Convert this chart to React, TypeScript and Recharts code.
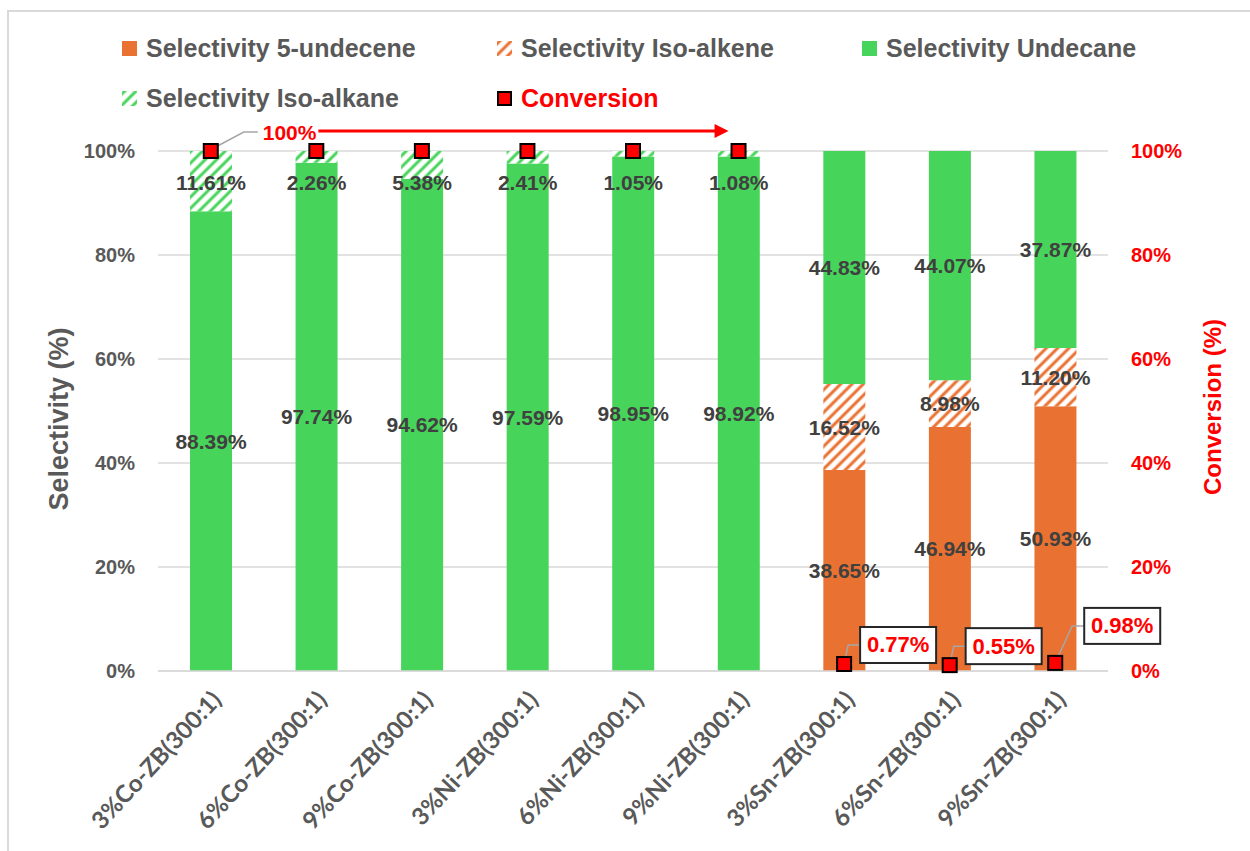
import React from 'react';
import {
  ComposedChart,
  Bar,
  Line,
  XAxis,
  YAxis,
  CartesianGrid,
  LabelList,
  ReferenceLine
} from 'recharts';

const categories = [
  '3%Co-ZB(300:1)',
  '6%Co-ZB(300:1)',
  '9%Co-ZB(300:1)',
  '3%Ni-ZB(300:1)',
  '6%Ni-ZB(300:1)',
  '9%Ni-ZB(300:1)',
  '3%Sn-ZB(300:1)',
  '6%Sn-ZB(300:1)',
  '9%Sn-ZB(300:1)'
];
const undecene = [0, 0, 0, 0, 0, 0, 38.65, 46.94, 50.93];
const isoAlkene = [0, 0, 0, 0, 0, 0, 16.52, 8.98, 11.2];
const undecane = [88.39, 97.74, 94.62, 97.59, 98.95, 98.92, 44.83, 44.07, 37.87];
const isoAlkane = [11.61, 2.26, 5.38, 2.41, 1.05, 1.08, 0, 0, 0];
const conversion = [100, 100, 100, 100, 100, 100, 0.77, 0.55, 0.98];
const percentTicks = [0, 20, 40, 60, 80, 100];

const data = categories.map((name, i) => ({
  name,
  undecene: undecene[i],
  isoAlkene: isoAlkene[i],
  undecane: undecane[i],
  isoAlkane: isoAlkane[i],
  conversion: conversion[i]
}));

const ORANGE = '#E97132';
const GREEN = '#47D45A';
const RED = '#FF0000';
const GREY = '#595959';
const LABEL = '#404040';
const ARIAL = '"Liberation Sans", Arial, sans-serif';

const legendItems = [
  { label: 'Selectivity 5-undecene', fill: ORANGE, col: 0, row: 0 },
  { label: 'Selectivity Iso-alkene', fill: 'url(#hatchOrange)', col: 1, row: 0 },
  { label: 'Selectivity Undecane', fill: GREEN, col: 2, row: 0 },
  { label: 'Selectivity Iso-alkane', fill: 'url(#hatchGreen)', col: 0, row: 1 },
  { label: 'Conversion', fill: RED, col: 1, row: 1, marker: true }
];
const legendCols = [122, 497, 862];

const segmentLabel = (shiftDown?: number) => (props: any) => {
  const { x, y, width, height, value } = props;
  if (!value) return null;
  const cy = shiftDown ? y + shiftDown : y + height / 2;
  return (
    <text
      x={x + width / 2}
      y={cy}
      textAnchor="middle"
      dominantBaseline="central"
      fill={LABEL}
      fontFamily={ARIAL}
      fontWeight="bold"
      fontSize={21}
    >
      {value.toFixed(2)}%
    </text>
  );
};

const calloutShift: Record<number, { dx: number; dy: number }> = {
  8: { dx: 29, dy: -40 }
};

const ConversionDot = (props: any) => {
  const { cx, cy, index, value } = props;
  const square = (
    <rect x={cx - 7} y={cy - 10} width={14} height={14} fill={RED} stroke="#000" strokeWidth={2} />
  );
  if (index === 0) {
    return (
      <g key={`dot-${index}`}>
        <polyline
          points={`${cx + 3},${cy - 3} ${cx + 33},${cy - 19} ${cx + 47},${cy - 19}`}
          fill="none"
          stroke="#A6A6A6"
          strokeWidth={1.5}
        />
        <text
          x={cx + 52}
          y={cy - 19}
          dominantBaseline="central"
          fill={RED}
          fontFamily={ARIAL}
          fontWeight="bold"
          fontSize={21}
        >
          {value}%
        </text>
        <rect x={cx - 7} y={cy - 7} width={14} height={14} fill={RED} stroke="#000" strokeWidth={2} />
      </g>
    );
  }
  if (value < 50) {
    const s = calloutShift[index] || { dx: 16, dy: -22 };
    const knee = s.dx - 12;
    return (
      <g key={`dot-${index}`}>
        <polyline
          points={`${cx},${cy - 3} ${cx + knee},${cy + s.dy} ${cx + s.dx},${cy + s.dy}`}
          fill="none"
          stroke="#A6A6A6"
          strokeWidth={1.5}
        />
        <rect
          x={cx + s.dx}
          y={cy + s.dy - 18}
          width={76}
          height={36}
          fill="#fff"
          stroke="#262626"
          strokeWidth={2}
        />
        <text
          x={cx + s.dx + 38}
          y={cy + s.dy}
          textAnchor="middle"
          dominantBaseline="central"
          fill={RED}
          fontFamily={ARIAL}
          fontWeight="bold"
          fontSize={22}
        >
          {value.toFixed(2)}%
        </text>
        {square}
      </g>
    );
  }
  return (
    <g key={`dot-${index}`}>
      <rect x={cx - 7} y={cy - 7} width={14} height={14} fill={RED} stroke="#000" strokeWidth={2} />
    </g>
  );
};

const CategoryTick = (props: any) => {
  const { x, y, payload } = props;
  return (
    <g transform={`translate(${x + 12},${y + 22})`}>
      <text
        textAnchor="end"
        transform="rotate(-47)"
        fill={GREY}
        fontFamily="Lato, sans-serif"
        fontWeight="bold"
        fontSize={24}
      >
        {payload.value}
      </text>
    </g>
  );
};

const ArrowShape = (props: any) => {
  const { x1, y1, x2 } = props;
  const y = y1 - 20;
  const end = x2 - 10;
  return (
    <g>
      <line x1={x1 + 2} y1={y} x2={end - 12} y2={y} stroke={RED} strokeWidth={3} />
      <polygon points={`${end - 14},${y - 7} ${end},${y} ${end - 14},${y + 7}`} fill={RED} />
    </g>
  );
};

const App = () => {
  return (
    <div
      style={{
        position: 'absolute',
        left: 0,
        top: 0,
        width: 1250,
        height: 851,
        background: '#fff',
        fontFamily: ARIAL
      }}
    >
      <div
        style={{
          position: 'absolute',
          left: 7,
          top: 10,
          right: 0,
          bottom: 0,
          borderLeft: '2px solid #d9d9d9',
          borderTop: '2px solid #d9d9d9'
        }}
      />
      <svg width={0} height={0} style={{ position: 'absolute' }}>
        <defs>
          <pattern id="hatchOrange" width="8" height="8" patternUnits="userSpaceOnUse" patternTransform="rotate(45)">
            <rect width="8" height="8" fill="#fff" />
            <line x1="2" y1="0" x2="2" y2="8" stroke={ORANGE} strokeWidth="3" />
          </pattern>
          <pattern id="hatchGreen" width="8" height="8" patternUnits="userSpaceOnUse" patternTransform="rotate(45)">
            <rect width="8" height="8" fill="#fff" />
            <line x1="2" y1="0" x2="2" y2="8" stroke={GREEN} strokeWidth="3" />
          </pattern>
        </defs>
      </svg>

      {legendItems.map((item) => (
        <div
          key={item.label}
          style={{
            position: 'absolute',
            left: legendCols[item.col],
            top: 48 + item.row * 50 - 15,
            height: 30,
            display: 'flex',
            alignItems: 'center',
            fontWeight: 'bold',
            fontSize: 25,
            color: item.marker ? RED : GREY,
            whiteSpace: 'nowrap'
          }}
        >
          <svg width={15} height={15} style={{ marginRight: 9 }}>
            <rect
              x={item.marker ? 1 : 0}
              y={item.marker ? 1 : 0}
              width={item.marker ? 13 : 15}
              height={item.marker ? 13 : 15}
              fill={item.fill}
              stroke={item.marker ? '#000' : 'none'}
              strokeWidth={item.marker ? 2 : 0}
            />
          </svg>
          {item.label}
        </div>
      ))}

      <ComposedChart
        width={1250}
        height={851}
        data={data}
        margin={{ top: 151, right: 20, bottom: 0, left: 30 }}
        barCategoryGap="30%"
      >
        <CartesianGrid vertical={false} stroke="#d9d9d9" strokeWidth={1.5} yAxisId="left" />
        <XAxis
          dataKey="name"
          height={180}
          tickLine={false}
          axisLine={{ stroke: '#d9d9d9', strokeWidth: 1.5 }}
          tick={<CategoryTick />}
          interval={0}
        />
        <YAxis
          yAxisId="left"
          width={128}
          domain={[0, 100]}
          ticks={percentTicks}
          tickFormatter={(v) => `${v}%`}
          axisLine={false}
          tickLine={false}
          tickMargin={17}
          tick={{ fill: GREY, fontWeight: 'bold', fontSize: 20, fontFamily: ARIAL }}
          label={{
            content: ({ viewBox }: any) => (
              <text
                transform={`translate(${viewBox.x + 29},${viewBox.y + viewBox.height / 2 + 8}) rotate(-90)`}
                textAnchor="middle"
                dominantBaseline="central"
                fill={GREY}
                fontFamily={ARIAL}
                fontWeight="bold"
                fontSize={27}
              >
                Selectivity (%)
              </text>
            )
          }}
        />
        <YAxis
          yAxisId="right"
          orientation="right"
          width={122}
          domain={[0, 100]}
          ticks={percentTicks}
          tickFormatter={(v) => `${v}%`}
          axisLine={false}
          tickLine={false}
          tickMargin={17}
          tick={{ fill: RED, fontWeight: 'bold', fontSize: 20, fontFamily: ARIAL }}
          label={{
            content: ({ viewBox }: any) => (
              <text
                transform={`translate(${viewBox.x + 104},${viewBox.y + viewBox.height / 2 - 4}) rotate(-90)`}
                textAnchor="middle"
                dominantBaseline="central"
                fill={RED}
                fontFamily={ARIAL}
                fontWeight="bold"
                fontSize={24}
              >
                Conversion (%)
              </text>
            )
          }}
        />
        <Bar dataKey="undecene" stackId="s" yAxisId="left" fill={ORANGE} barSize={42} isAnimationActive={false}>
          <LabelList dataKey="undecene" content={segmentLabel()} />
        </Bar>
        <Bar dataKey="isoAlkene" stackId="s" yAxisId="left" fill="url(#hatchOrange)" barSize={42} isAnimationActive={false}>
          <LabelList dataKey="isoAlkene" content={segmentLabel()} />
        </Bar>
        <Bar dataKey="undecane" stackId="s" yAxisId="left" fill={GREEN} barSize={42} isAnimationActive={false}>
          <LabelList dataKey="undecane" content={segmentLabel()} />
        </Bar>
        <Bar dataKey="isoAlkane" stackId="s" yAxisId="left" fill="url(#hatchGreen)" barSize={42} isAnimationActive={false}>
          <LabelList dataKey="isoAlkane" content={segmentLabel(31)} />
        </Bar>
        <ReferenceLine
          yAxisId="right"
          segment={[
            { x: categories[1], y: 100 },
            { x: categories[5], y: 100 }
          ]}
          shape={<ArrowShape />}
        />
        <Line
          dataKey="conversion"
          yAxisId="right"
          stroke="none"
          dot={ConversionDot}
          activeDot={false}
          isAnimationActive={false}
        />
      </ComposedChart>
    </div>
  );
};

export default App;
